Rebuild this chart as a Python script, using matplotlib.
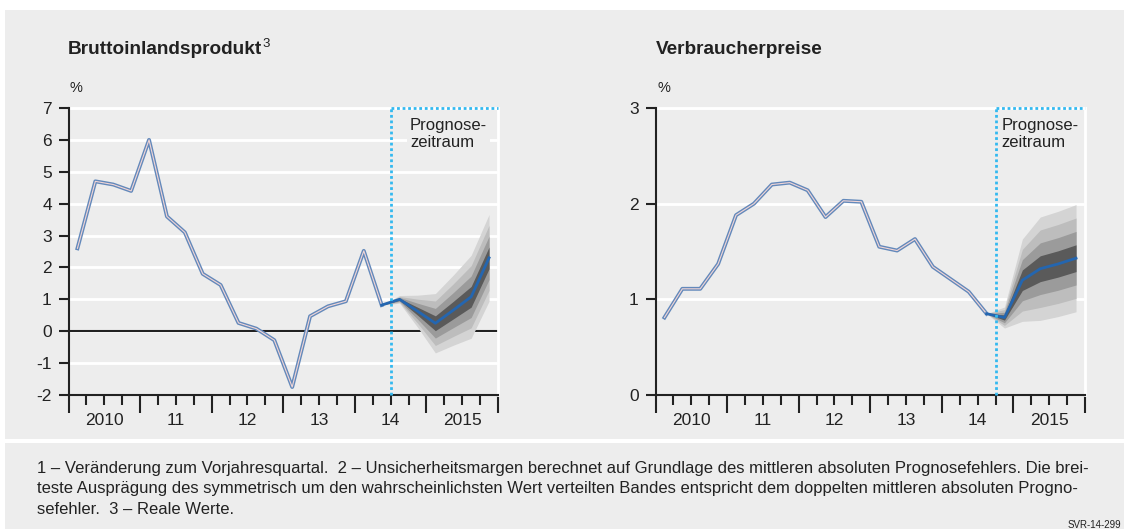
import matplotlib
matplotlib.use('Agg')
import matplotlib.pyplot as plt
from matplotlib.patches import Rectangle
import numpy as np

# quarterly values, 2010Q1 onwards
gdp_hist = [2.6, 4.7, 4.6, 4.4, 6.0, 3.6, 3.1, 1.8, 1.45, 0.26, 0.08, -0.28,
            -1.75, 0.47, 0.78, 0.94, 2.52, 0.82]
# forecast 2014Q2 .. 2015Q4
gdp_fc = [0.82, 1.0, 0.63, 0.25, 0.66, 1.08, 2.3]
gdp_band = [0.0, 0.12, 0.5, 0.93, 1.1, 1.3, 1.36]

cpi_hist = [0.81, 1.11, 1.11, 1.37, 1.88, 2.0, 2.2, 2.22, 2.14, 1.86, 2.03, 2.02,
            1.55, 1.51, 1.63, 1.34, 1.21, 1.08, 0.85]
# forecast 2014Q3 .. 2015Q4
cpi_fc = [0.85, 0.81, 1.2, 1.32, 1.37, 1.43]
cpi_band = [0.0, 0.11, 0.43, 0.54, 0.55, 0.56]

year_labels = ['2010', '11', '12', '13', '14', '2015']

W, H = 1124, 529
BG = '#ededed'
INK = '#222222'
DOT = '#33b9f0'
GRID = 'white'
FAN_COLORS = ['#d4d4d4', '#bdbdbd', '#9b9b9b', '#5a5a5a']
TICK_FONT = 'Liberation Sans'
TEXT_FONT = ['Liberation Sans Narrow', 'Liberation Sans']


def qx(start, n):
    return 2010 + (np.arange(start, start + n) + 0.5) / 4


def setup_axis(ax, ymin, ymax):
    ax.set_facecolor(BG)
    ax.set_xlim(2010, 2016)
    ax.set_ylim(ymin, ymax)
    ax.set_yticks(range(ymin, ymax + 1))
    ax.set_yticklabels([str(v) for v in range(ymin, ymax + 1)],
                       fontsize=12.5, fontfamily=TICK_FONT, color=INK)
    ax.tick_params(axis='y', length=7, width=1.5, color=INK, pad=5)
    ax.set_xticks(range(2010, 2017))
    ax.set_xticklabels([''] * 7)
    ax.tick_params(axis='x', which='major', length=13, width=1.5, color=INK)
    minor = [2010 + q / 4 for q in range(24) if q % 4 != 0]
    ax.set_xticks(minor, minor=True)
    ax.set_xticklabels([year_labels[int(m - 2010)] if (m * 4) % 4 == 2 else ''
                        for m in minor], minor=True,
                       fontsize=12.5, fontfamily=TICK_FONT, color=INK)
    ax.tick_params(axis='x', which='minor', length=7, width=1.5, color=INK, pad=6)
    for v in range(ymin + 1, ymax + 1):
        ax.axhline(v, color=GRID, lw=2.0, zorder=1)
    for s in ['left', 'bottom']:
        ax.spines[s].set_color(INK)
        ax.spines[s].set_linewidth(1.5)
        ax.spines[s].set_zorder(5)
    for s in ['top', 'right']:
        ax.spines[s].set_color(GRID)
        ax.spines[s].set_linewidth(2.0)


def draw_series(ax, hist, fc, band, fc_start, split, ymin, ymax):
    xh = qx(0, len(hist))
    xf = qx(fc_start, len(fc))
    fc = np.array(fc)
    band = np.array(band)
    for k, col in zip([1.0, 0.75, 0.5, 0.25], FAN_COLORS):
        ax.fill_between(xf, fc - k * band, fc + k * band, color=col, lw=0, zorder=2)
    ax.plot(xh, hist, color='#6389bb', lw=2.8, zorder=3)
    ax.plot(xh, hist, color='#f2d6d6', lw=0.8, zorder=3.1)
    ax.plot(xf, fc, color='#2466b0', lw=2.0, zorder=4)
    ax.plot([split, split], [ymin, ymax], color=DOT, lw=2, ls=(0, (1, 1)),
            zorder=6, clip_on=False)
    ax.plot([split, 2016], [ymax, ymax], color=DOT, lw=2, ls=(0, (1, 1)),
            zorder=6, clip_on=False)


fig = plt.figure(figsize=(W / 100, H / 100), dpi=100)
fig.patch.set_facecolor('white')
fig.add_artist(Rectangle((5 / W, 1 - 439 / H), 1 - 5 / W, 429 / H,
                         transform=fig.transFigure, facecolor=BG, lw=0, zorder=-10))
fig.add_artist(Rectangle((5 / W, 0), 1 - 5 / W, 1 - 443 / H,
                         transform=fig.transFigure, facecolor=BG, lw=0, zorder=-10))

ax1 = fig.add_axes([68.5 / W, 1 - 395 / H, 429.5 / W, 287 / H])
ax2 = fig.add_axes([655.5 / W, 1 - 395 / H, 429.5 / W, 287 / H])

setup_axis(ax1, -2, 7)
ax1.axhline(0, color=INK, lw=1.5, zorder=1.5)
draw_series(ax1, gdp_hist, gdp_fc, gdp_band, 17, 2014.5, -2, 7)

setup_axis(ax2, 0, 3)
draw_series(ax2, cpi_hist, cpi_fc, cpi_band, 18, 2014.75, 0, 3)

for ax, xt in [(ax1, 2014.77), (ax2, 2014.835)]:
    ax.text(xt, 0.909, 'Prognose-\nzeitraum', transform=ax.get_xaxis_transform(),
            ha='left', va='center', fontsize=12, fontfamily=TICK_FONT, color=INK,
            linespacing=1.15, zorder=7,
            bbox=dict(facecolor=BG, edgecolor='none', pad=2))

t1 = fig.text(68 / W, 1 - 49 / H, 'Bruttoinlandsprodukt', fontsize=13.7,
              fontweight='bold', fontfamily=TICK_FONT, color=INK, va='center')
fig.canvas.draw()
ax1.annotate('3', xy=(1, 0.42), xycoords=t1, xytext=(0.5, 0), textcoords='offset points',
             fontsize=9.5, fontfamily=TICK_FONT, color=INK, va='bottom', ha='left')
fig.text(656 / W, 1 - 49 / H, 'Verbraucherpreise', fontsize=13.7,
         fontweight='bold', fontfamily=TICK_FONT, color=INK, va='center')

fig.text(70 / W, 1 - 88 / H, '%', fontsize=10.5, fontfamily=TICK_FONT, color=INK, va='center')
fig.text(657 / W, 1 - 88 / H, '%', fontsize=10.5, fontfamily=TICK_FONT, color=INK, va='center')

notes = [
    '1 \u2013 Veränderung zum Vorjahresquartal.  2 \u2013 Unsicherheitsmargen berechnet auf '
    'Grundlage des mittleren absoluten Prognosefehlers. Die brei-',
    'teste Ausprägung des symmetrisch um den wahrscheinlichsten Wert verteilten Bandes '
    'entspricht dem doppelten mittleren absoluten Progno-',
    'sefehler.  3 \u2013 Reale Werte.',
]
for i, line in enumerate(notes):
    fig.text(37 / W, 1 - (468 + 21 * i) / H, line, fontsize=12, fontfamily=TEXT_FONT,
             color=INK, va='center')
fig.text(1121 / W, 1 - 525 / H, 'SVR-14-299', fontsize=7, fontfamily=TEXT_FONT,
         color=INK, va='center', ha='right')

fig.savefig('out.png', dpi=100)
